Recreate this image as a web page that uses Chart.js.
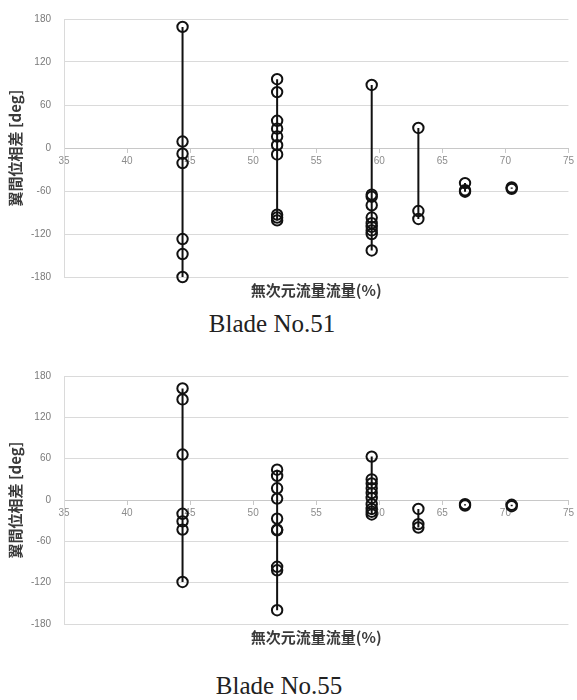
<!DOCTYPE html>
<html>
<head>
<meta charset="utf-8">
<script src="https://cdn.jsdelivr.net/npm/chart.js@4/dist/chart.umd.min.js"></script>
<style>
  html, body { margin: 0; padding: 0; background: #fff; }
  #page { position: relative; width: 577px; height: 700px; overflow: hidden; }
  canvas { position: absolute; left: 0; }
  .caption {
    position: absolute; font-family: "Liberation Serif", "Times New Roman", serif;
    font-size: 25px; color: #222; white-space: nowrap; transform: translate(-50%, -50%);
  }
</style>
</head>
<body>
<div id="page">
  <canvas id="c51" width="577" height="300" style="top:0px"></canvas>
  <div class="caption" style="left:272px; top:324px">Blade No.51</div>
  <canvas id="c55" width="577" height="300" style="top:347px"></canvas>
  <div class="caption" style="left:279px; top:686px">Blade No.55</div>
</div>
<script>
// Flow-rate stations (x) shared by both blades
const flowRates = [44.4, 51.9, 59.4, 63.1, 66.8, 70.5];

// Inter-blade phase difference [deg] measured at each station, Blade No.51
const blade51_st1 = [169, 9, -8, -21, -127, -148, -180];
const blade51_st2 = [96, 78, 38, 27, 16, 4, -9, -93, -97, -101];
const blade51_st3 = [88, -65, -68, -80, -97, -105, -110, -115, -120, -143];
const blade51_st4 = [28, -88, -99];
const blade51_st5 = [-49, -59, -61];
const blade51_st6 = [-55, -57];

// Inter-blade phase difference [deg], Blade No.55
const blade55_st1 = [162, 146, 66, -20, -31, -43, -119];
const blade55_st2 = [44, 35, 17, 2, -27, -43, -44, -97, -102, -160];
const blade55_st3 = [63, 30, 24, 17, 10, 3, -6, -13, -17, -21];
const blade55_st4 = [-13, -35, -40];
const blade55_st5 = [-6, -8];
const blade55_st6 = [-7, -9];

// Axis ticks
const xTicks = [35, 40, 45, 50, 55, 60, 65, 70, 75];
const yTicks = [-180, -120, -60, 0, 60, 120, 180];

const xTitle = '無次元流量流量(%)';
const yTitle = '翼間位相差 [deg]';

const cjk = '"Noto Sans CJK JP", "Noto Sans", sans-serif';
const tickFont = '"Liberation Sans", Arial, sans-serif';

function columnDatasets(columns) {
  return columns.map((ys, i) => ({
    data: ys.map(y => ({ x: flowRates[i], y })),
    showLine: true,
    borderColor: '#111',
    borderWidth: 2,
    backgroundColor: 'rgba(0,0,0,0)',
    pointBorderColor: '#111',
    pointBackgroundColor: 'rgba(0,0,0,0)',
    pointBorderWidth: 2,
    pointRadius: 5.2,
    pointHoverRadius: 5.2,
    pointStyle: 'circle',
    clip: false
  }));
}

function makeChart(id, columns, topPad) {
  return new Chart(document.getElementById(id), {
    type: 'scatter',
    data: { datasets: columnDatasets(columns) },
    options: {
      responsive: false,
      animation: false,
      devicePixelRatio: 1,
      layout: { padding: { top: topPad, right: 7, left: 0, bottom: 0 } },
      plugins: {
        legend: { display: false },
        tooltip: { enabled: false },
        title: {
          display: true,
          text: xTitle,
          position: 'bottom',
          fullSize: false,
          color: '#3a3a3a',
          font: { family: cjk, size: 15, weight: 'bold' },
          padding: { top: 4, bottom: 1 }
        }
      },
      scales: {
        x: {
          type: 'linear',
          position: { y: 0 },
          min: xTicks[0],
          max: xTicks[xTicks.length - 1],
          afterBuildTicks: s => { s.ticks = xTicks.map(v => ({ value: v })); },
          afterFit: s => { s.height = 0; },
          ticks: {
            autoSkip: false,
            maxRotation: 0,
            padding: 3,
            color: '#8c8c8c',
            font: { family: tickFont, size: 10 }
          },
          grid: { drawOnChartArea: false, drawTicks: true, tickLength: 4, color: '#c8c8c8' },
          border: { display: true, color: '#c8c8c8', width: 1 }
        },
        y: {
          type: 'linear',
          min: yTicks[0],
          max: yTicks[yTicks.length - 1],
          afterBuildTicks: s => { s.ticks = yTicks.map(v => ({ value: v })); },
          afterFit: s => { s.width = 64; },
          ticks: {
            padding: 13,
            color: '#7a7a7a',
            font: { family: tickFont, size: 10 }
          },
          grid: { drawTicks: false, color: '#dadada', lineWidth: 1 },
          border: { display: true, color: '#dadada' },
          title: {
            display: true,
            text: yTitle,
            color: '#3a3a3a',
            font: { family: cjk, size: 15, weight: 'bold' },
            padding: { top: 6, bottom: 0 }
          }
        }
      }
    }
  });
}

makeChart('c51', [blade51_st1, blade51_st2, blade51_st3, blade51_st4, blade51_st5, blade51_st6], 19);
makeChart('c55', [blade55_st1, blade55_st2, blade55_st3, blade55_st4, blade55_st5, blade55_st6], 29);
</script>
</body>
</html>
